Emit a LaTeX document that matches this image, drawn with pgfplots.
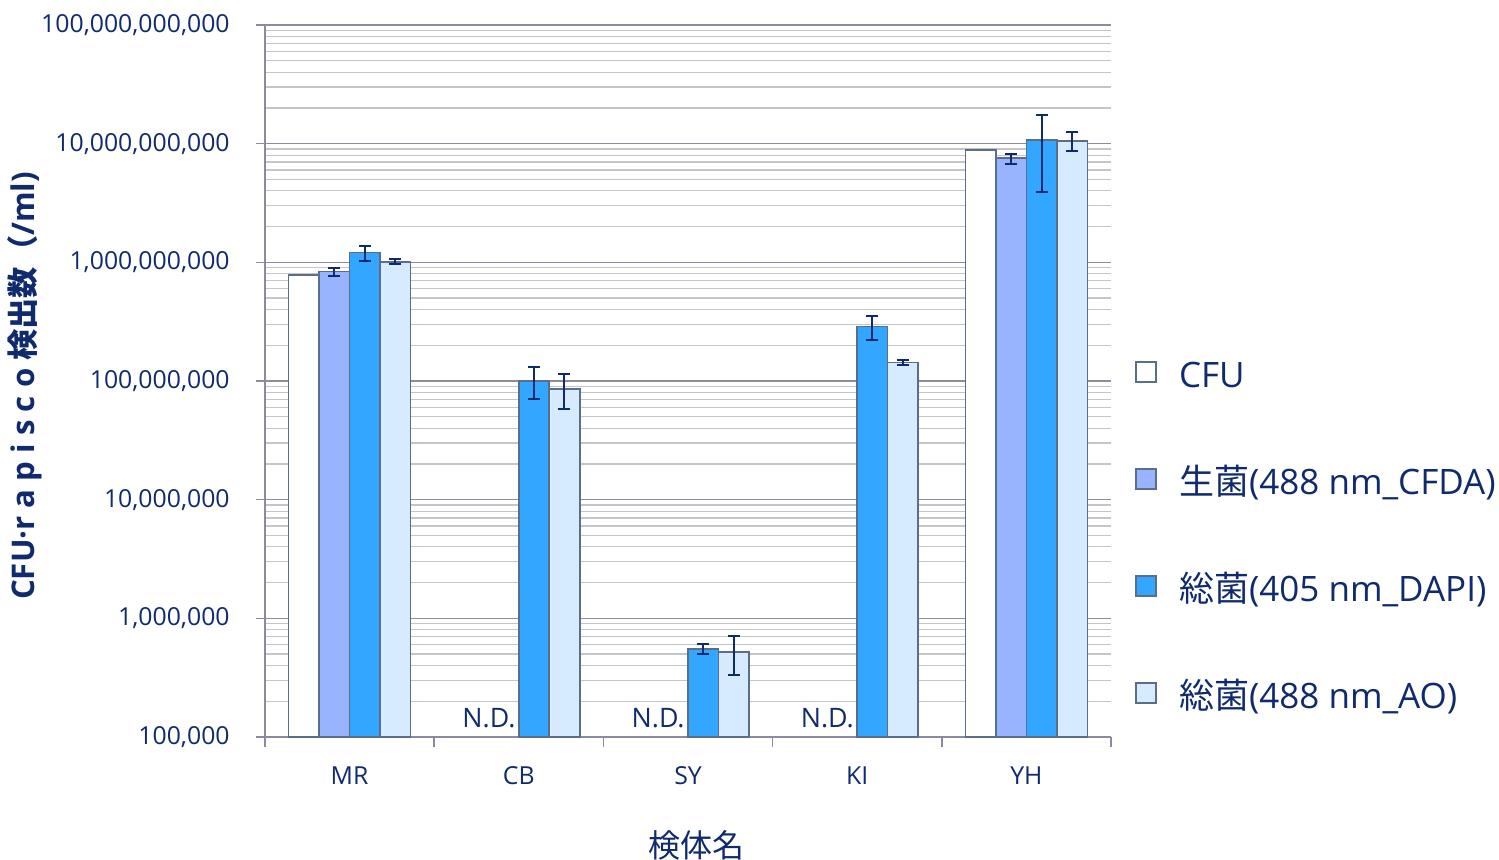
\documentclass[border=0pt]{standalone}
\usepackage{pgfplots}
\pgfplotsset{compat=1.18}
\usepackage{pgfplotstable}
\usepackage{fontspec}
\setmainfont{Open Sans}
\newfontfamily\jp{Noto Sans CJK JP}

\definecolor{navy}{HTML}{102A6E}
\definecolor{errc}{HTML}{0D2A6E}
\definecolor{bord}{HTML}{5A6E8C}
\definecolor{cfda}{HTML}{99B4FF}
\definecolor{dapi}{HTML}{33A7FF}
\definecolor{ao}{HTML}{D6EBFF}
\definecolor{axc}{HTML}{8A8AA0}
\definecolor{majg}{HTML}{8C8CA0}
\definecolor{ming}{HTML}{C4C4CC}

% x y err
\pgfplotstableread{
x y e
0 7.82e8 0
4 8.84e9 0
}\cfu
\pgfplotstableread{
x y e
0 8.35e8 0.65e8
4 7.53e9 0.73e9
}\cfdatab
\pgfplotstableread{
x y e
0 1.206e9 0.17e9
1 1.00e8 0.30e8
2 5.51e5 0.54e5
3 2.87e8 0.67e8
4 1.074e10 0.68e10
}\dapitab
\pgfplotstableread{
x y e
0 1.012e9 0.05e9
1 8.57e7 2.8e7
2 5.20e5 1.9e5
3 1.43e8 0.07e8
4 1.059e10 0.20e10
}\aotab

\begin{document}
\begin{tikzpicture}
\path[use as bounding box] (0,0) rectangle (749.5pt,429.5pt);
\begin{axis}[
  at={(132.5pt,61pt)}, anchor=south west,
  scale only axis, width=423pt, height=356pt,
  ymode=log, log origin=infty,
  ymin=1e5, ymax=1e11,
  xmin=-0.5, xmax=4.5,
  ybar=0pt, bar width=0.18,
  axis x line*=bottom, axis y line*=left,
  axis line style={draw=axc, line width=0.8pt, -},
  ytick={1e5,1e6,1e7,1e8,1e9,1e10,1e11},
  yticklabels={{100,000},{1,000,000},{10,000,000},{100,000,000},{1,000,000,000},{10,000,000,000},{100,000,000,000}},
  xtick={0,1,2,3,4},
  xticklabels={MR,CB,SY,KI,YH},
  minor xtick={-0.5,0.5,1.5,2.5,3.5,4.5},
  tick align=outside,
  major tick length=4.5pt, minor tick length=5pt,
  major x tick style={draw=none},
  major y tick style={draw=axc, line width=0.8pt},
  minor x tick style={draw=axc, line width=0.8pt},
  minor y tick style={draw=none},
  ymajorgrids, yminorgrids,
  major y grid style={draw=majg, line width=0.8pt},
  minor y grid style={draw=ming, line width=0.6pt},
  yticklabel style={font=\fontsize{12.4}{14}\selectfont, text=navy, inner sep=0pt, xshift=-13pt},
  xticklabel style={font=\fontsize{12.4}{14}\selectfont, text=navy, inner sep=0pt, text height=9pt, yshift=-10pt},
  xlabel={\jp 検体名},
  xlabel style={at={(axis description cs:0.5106,-0.1517)}, anchor=center, font=\fontsize{16}{18}\selectfont, text=navy},
  ylabel={\bfseries CFU·r a p i s c o {\jp 検出数（}/ml)},
  ylabel style={at={(axis description cs:-0.2837,0.493)}, anchor=center, font=\fontsize{15.6}{17}\selectfont, text=navy},
  legend cell align=left,
  legend image code/.code={
    \draw[#1, draw=bord, line width=0.8pt] (0pt,-1.25pt) rectangle (10pt,8.75pt);
    \path (21pt,0pt) (0pt,11.75pt);
  },
  legend style={at={(1.0284,0.537)}, anchor=north west, draw=none, fill=none,
    inner sep=0pt, row sep=34.4pt, column sep=0pt,
    font=\fontsize{17.5}{19}\selectfont, text=navy,
    nodes={inner sep=0pt, text height=11pt, text depth=3pt}},
  error bars/error bar style={draw=errc, line width=1pt},
  error bars/error mark options={rotate=90, mark size=3pt, draw=errc, line width=1pt},
]
\addplot[fill=white, draw=bord, line width=0.8pt] table[x=x,y=y] {\cfu};
\addlegendentry{CFU}
\addplot[fill=cfda, draw=bord, line width=0.8pt, error bars/.cd, y dir=both, y explicit] table[x=x,y=y,y error=e] {\cfdatab};
\addlegendentry{{\jp 生菌}(488 nm\_CFDA)}
\addplot[fill=dapi, draw=bord, line width=0.8pt, error bars/.cd, y dir=both, y explicit] table[x=x,y=y,y error=e] {\dapitab};
\addlegendentry{{\jp 総菌}(405 nm\_DAPI)}
\addplot[fill=ao, draw=bord, line width=0.8pt, error bars/.cd, y dir=both, y explicit] table[x=x,y=y,y error=e] {\aotab};
\addlegendentry{{\jp 総菌}(488 nm\_AO)}
\node[anchor=base east, inner sep=0pt, xshift=-1.5pt, yshift=5pt, font=\fontsize{13.4}{15}\selectfont, text=navy] at (axis cs:1,1e5) {N.D.};
\node[anchor=base east, inner sep=0pt, xshift=-1.5pt, yshift=5pt, font=\fontsize{13.4}{15}\selectfont, text=navy] at (axis cs:2,1e5) {N.D.};
\node[anchor=base east, inner sep=0pt, xshift=-1.5pt, yshift=5pt, font=\fontsize{13.4}{15}\selectfont, text=navy] at (axis cs:3,1e5) {N.D.};
\end{axis}
\end{tikzpicture}
\end{document}
